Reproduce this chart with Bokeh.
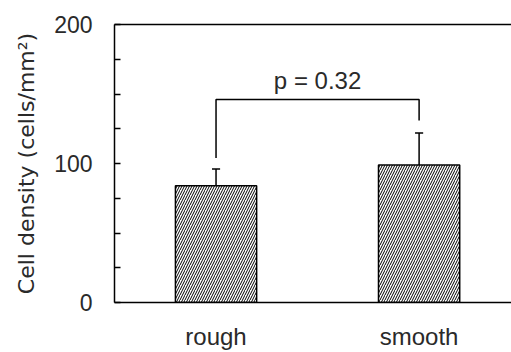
from bokeh.plotting import figure
from bokeh.models import FixedTicker, LinearAxis, Range1d, Label
from bokeh.embed import file_html
from bokeh.resources import INLINE

categories = ["rough", "smooth"]
means = [84, 99]
errors = [12, 23]
y_ticks = [0, 100, 200]
y_minor = [25, 50, 75, 125, 150, 175]
bracket_y = 146
bracket_left_end = 104
bracket_right_end = 131
p_text = "p = 0.32"

FONT = "Liberation Sans"
TXT = "#2a2a2a"

xs = [i + 1 for i in range(len(categories))]

p = figure(width=511, height=352, output_backend="svg", toolbar_location=None,
           x_range=Range1d(0.5, 2.455), y_range=Range1d(0, 200),
           min_border_left=114, min_border_top=24, min_border_bottom=47,
           min_border_right=0, tools="")
p.outline_line_color = None
p.grid.visible = False
p.background_fill_color = "white"
p.border_fill_color = "white"

p.vbar(x=xs, top=means, width=0.4, fill_color="white", line_color="black",
       line_width=1.5, hatch_pattern="/", hatch_color="black", hatch_scale=5,
       hatch_weight=1)

tops = [m + e for m, e in zip(means, errors)]
p.segment(x0=xs, y0=means, x1=xs, y1=tops, line_color="black", line_width=1.5)
cap = 0.02
p.segment(x0=[x - cap for x in xs], y0=tops, x1=[x + cap for x in xs], y1=tops,
          line_color="black", line_width=1.5)

# significance bracket
p.line(x=[xs[0], xs[0], xs[1], xs[1]],
       y=[bracket_left_end, bracket_y, bracket_y, bracket_right_end],
       line_color="black", line_width=1.5)
p.add_layout(Label(x=(xs[0] + xs[1]) / 2, y=bracket_y + 4, text=p_text,
                   text_align="center", text_baseline="bottom",
                   text_font=FONT, text_font_size="24px", text_color=TXT))

# y axis
ya = p.yaxis[0]
ya.ticker = FixedTicker(ticks=y_ticks, minor_ticks=y_minor)
ya.major_tick_in = 6
ya.major_tick_out = 0
ya.minor_tick_in = 6
ya.minor_tick_out = 0
ya.axis_line_width = 1.5
ya.major_tick_line_width = 1.5
ya.minor_tick_line_width = 1.5
ya.major_label_standoff = 22
ya.major_label_text_font = FONT
ya.major_label_text_font_size = "23px"
ya.major_label_text_color = TXT
ya.axis_label = "Cell density (cells/mm²)"
ya.axis_label_text_font = "DejaVu Sans"
ya.axis_label_text_font_size = "22px"
ya.axis_label_text_font_style = "normal"
ya.axis_label_text_color = TXT
ya.axis_label_standoff = 12

# x axis
xa = p.xaxis[0]
xa.ticker = FixedTicker(ticks=xs)
xa.major_label_overrides = {x: c for x, c in zip(xs, categories)}
xa.major_tick_in = 0
xa.major_tick_out = 0
xa.minor_tick_line_color = None
xa.axis_line_width = 1.5
xa.major_label_standoff = 20
xa.major_label_text_font = FONT
xa.major_label_text_font_size = "24px"
xa.major_label_text_color = TXT

top_axis = LinearAxis(major_tick_line_color=None, minor_tick_line_color=None,
                      major_label_text_font_size="0px", axis_line_width=1.5)
top_axis.major_label_text_color = None
p.add_layout(top_axis, "above")

open("out.html", "w").write(file_html(p, INLINE))
